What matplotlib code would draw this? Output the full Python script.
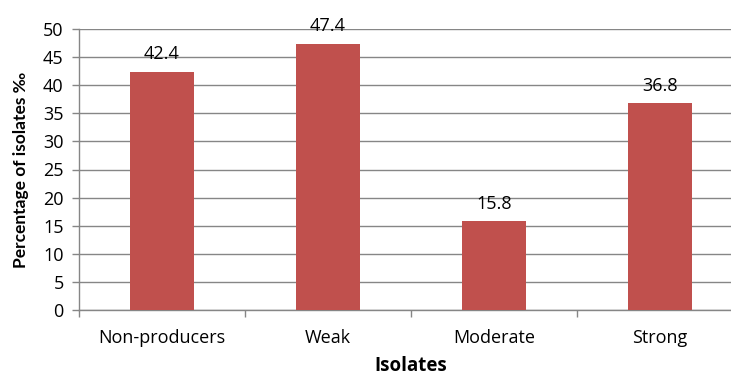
import matplotlib.pyplot as plt
import numpy as np

categories = ['Non-producers', 'Weak', 'Moderate', 'Strong']
values = [42.4, 47.4, 15.8, 36.8]

plt.rcParams['font.family'] = ['Open Sans', 'DejaVu Sans']

fig = plt.figure(figsize=(7.31, 3.78), dpi=100)
ax = fig.add_axes([79 / 731, 68 / 378, 664 / 731, 281 / 378])

x = np.arange(len(categories))
bars = ax.bar(x, values, width=0.39, color='#C0504D', zorder=3)

for b, v in zip(bars, values):
    ax.text(b.get_x() + b.get_width() / 2, v + 1.5, f'{v:.1f}',
            ha='center', va='bottom', fontsize=13, color='black', zorder=4)

ax.set_xlim(-0.5, len(categories) - 0.5)
ax.set_ylim(0, 50)
ax.set_yticks(np.arange(0, 51, 5))
ax.tick_params(axis='y', labelsize=13, length=5, width=1, color='#868686', pad=6)

# category labels at the centres, tick marks on the boundaries
ax.set_xticks(x)
ax.set_xticklabels(categories, fontsize=13)
ax.tick_params(axis='x', which='major', length=0, pad=14)
ax.set_xticks(np.arange(-0.5, len(categories), 1), minor=True)
ax.tick_params(axis='x', which='minor', length=5, width=1, color='#868686')

ax.grid(axis='y', color='#868686', linewidth=1, zorder=0)
for side in ['top', 'right']:
    ax.spines[side].set_visible(False)
for side in ['left', 'bottom']:
    ax.spines[side].set_color('#868686')
    ax.spines[side].set_linewidth(1)

ax.set_ylabel('Percentage of isolates ‰', fontsize=12.5, fontweight='bold',
              family=['Lato', 'DejaVu Sans'], labelpad=10)
ax.set_xlabel('Isolates', fontsize=13.5, fontweight='bold', labelpad=6)

fig.savefig('out.png', dpi=100)
